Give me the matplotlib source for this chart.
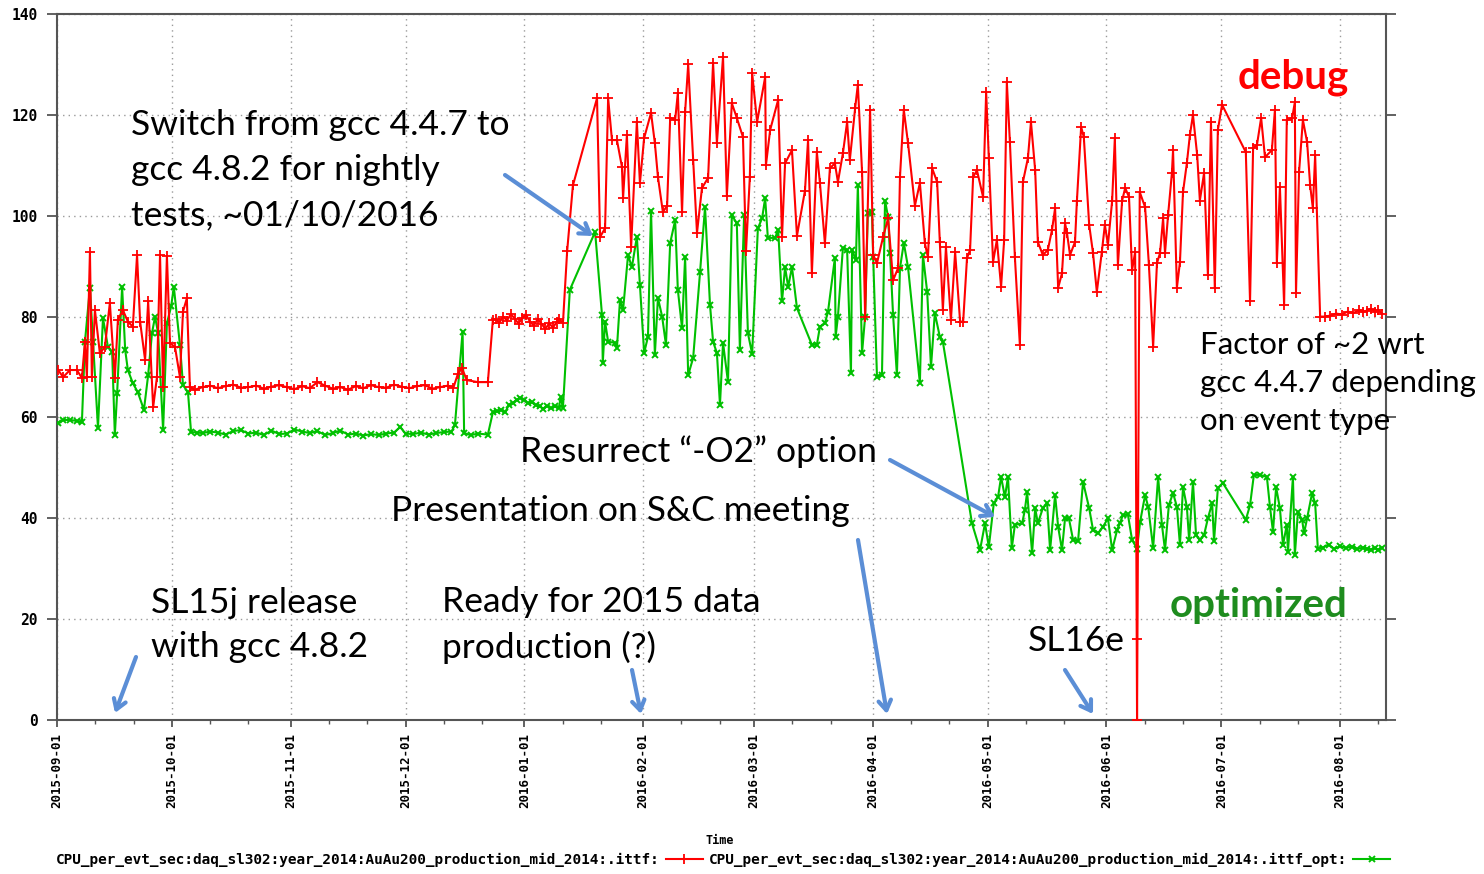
import matplotlib
matplotlib.use("Agg")
import matplotlib.pyplot as plt
import matplotlib.dates as mdates
import pandas as pd

# CPU per event (sec), nightly tests, days counted from 2015-09-01
start = pd.Timestamp("2015-09-01")

debug_days = [
    0.3, 1.6, 3.4, 5.2, 6.5, 7.3, 7.8, 8.6, 9.1, 9.9,
    11.2, 12.5, 13.8, 15.1, 15.9, 17.2, 18.5, 19.8, 20.9, 21.7,
    23.0, 23.8, 25.1, 26.1, 26.9, 27.7, 28.7, 29.5, 30.8, 32.1,
    32.9, 33.9, 34.7, 36, 38, 40, 42, 44, 46, 48,
    50, 52, 54, 56, 58, 60, 62, 64, 66, 68,
    70, 72, 74, 76, 78, 80, 82, 84, 86, 88,
    90, 92, 94, 96, 98, 100, 102, 103.5, 104.7, 105.7,
    107.0, 109.9, 112.5, 113.8, 114.5, 115.5, 116.5, 117.5, 118.5, 119.5,
    120.5, 121.5, 122.5, 123.5, 124.5, 125.5, 126.5, 127.5, 128.5, 129.5,
    130.5, 131.2, 132.1, 133.2, 134.7, 141.0, 141.8, 143.1, 143.9, 144.9,
    146.2, 147.5, 147.8, 148.8, 149.9, 151.4, 152.2, 153.3, 155.1, 156.1,
    156.9, 158.2, 159.3, 160.1, 161.4, 162.1, 163.2, 164.0, 164.8, 166.1,
    167.1, 168.4, 170.0, 171.3, 172.3, 173.9, 174.9, 176.2, 177.5, 179.1,
    179.9, 180.9, 181.5, 182.8, 184.9, 185.1, 186.2, 188.3, 189.3, 190.1,
    191.9, 193.2, 195.3, 196.1, 197.1, 198.4, 199.2, 200.5, 201.8, 203.1,
    203.9, 205.2, 206.3, 207.0, 208.4, 209.1, 210.2, 211.0, 212.3, 213.1,
    214.1, 215.7, 217.0, 218.3, 219.6, 220.1, 221.1, 222.2, 224.0, 225.3,
    226.6, 227.4, 228.5, 229.8, 230.5, 231.3, 232.1, 233.4, 234.5, 235.8,
    236.6, 237.6, 238.4, 239.2, 240.2, 241.8, 242.6, 243.3, 244.4, 245.4,
    246.5, 247.3, 248.0, 248.8, 250.1, 251.4, 252.2, 253.5, 254.3, 255.4,
    256.1, 257.4, 258.7, 259.8, 260.6, 261.4, 262.4, 263.2, 263.7, 264.5,
    265.8, 266.3, 267.4, 268.1, 269.5, 270.5, 271.5, 272.8, 273.6, 274.4,
    275.5, 276.2, 277.0, 278.1, 278.9, 279.9, 280.7, 281.5, 282.0, 282.1,
    282.7, 284.1, 285.1, 286.2, 287.2, 288.0, 288.8, 289.3, 290.1, 291.1,
    291.4, 292.4, 293.2, 294.0, 295.0, 295.8, 296.6, 297.7, 298.4, 299.5,
    300.5, 301.3, 302.3, 303.1, 304.2, 310.4, 311.5, 312.3, 313.3, 314.4,
    315.4, 317.2, 318.0, 318.5, 319.3, 320.4, 321.1, 322.5, 323.2, 323.5,
    324.3, 325.3, 326.4, 327.2, 327.9, 328.5, 329.8, 331.0, 332.5, 334.0,
    335.5, 337.0, 338.5, 340.0, 341.0, 342.0, 343.0, 344.0, 345.0, 346.0,
]
debug_cpu = [
    69.4, 68.0, 69.4, 69.4, 67.8, 75.0, 68.0, 92.8, 68.0, 81.3,
    72.7, 74.0, 82.7, 67.8, 79.3, 81.3, 79.0, 78.0, 92.2, 79.0,
    71.4, 83.0, 62.0, 68.0, 92.2, 66.0, 92.0, 74.7, 74.0, 68.0,
    81.0, 83.6, 66.0, 65.5, 66.0, 66.3, 65.8, 66.2, 66.5, 65.9,
    66.0, 66.3, 65.7, 66.1, 66.4, 66.0, 65.6, 66.2, 65.8, 67.0,
    66.3, 65.7, 66.0, 65.5, 66.2, 65.8, 66.4, 66.0, 65.9, 66.5,
    66.1, 65.8, 66.2, 66.4, 65.7, 66.0, 66.3, 65.9, 68.7, 69.8,
    67.4, 67.0, 67.0, 79.3, 79.5, 78.8, 80.0, 79.2, 80.5, 79.6,
    78.6, 79.8, 80.3, 79.0, 78.2, 79.5, 78.6, 77.5, 78.7, 77.8,
    79.0, 79.5, 78.7, 93.0, 106.0, 123.3, 95.8, 97.5, 123.3, 115.0,
    115.0, 109.7, 103.5, 116.0, 93.8, 118.6, 106.5, 115.4, 120.4, 114.4,
    107.7, 100.7, 102.0, 119.4, 119.0, 124.3, 100.7, 120.6, 130.0, 111.0,
    96.6, 105.5, 107.5, 130.3, 114.4, 131.5, 104.0, 122.3, 119.4, 115.6,
    93.0, 107.7, 128.3, 118.6, 127.5, 110.0, 117.0, 123.0, 95.8, 110.4,
    113.0, 96.0, 105.0, 115.0, 88.6, 112.6, 106.5, 94.5, 109.4, 110.4,
    106.7, 112.4, 118.6, 111.0, 121.4, 126.0, 108.7, 80.0, 121.0, 92.2,
    90.6, 95.8, 99.5, 87.2, 89.6, 107.7, 121.0, 114.4, 102.0, 106.5,
    94.5, 91.8, 109.4, 106.7, 94.8, 81.3, 93.8, 79.3, 92.8, 79.0,
    79.0, 91.6, 93.2, 107.7, 109.0, 103.7, 124.5, 111.4, 90.8, 95.2,
    85.9, 95.2, 126.5, 114.6, 91.8, 74.4, 106.7, 111.4, 118.6, 109.0,
    94.8, 92.2, 93.2, 97.2, 101.5, 85.7, 88.6, 98.5, 96.6, 92.2,
    94.8, 103.0, 117.6, 115.6, 98.2, 92.6, 84.9, 92.8, 98.2, 94.2,
    103.0, 115.4, 90.2, 103.0, 105.5, 103.7, 89.2, 92.8, 0.0, 16.0,
    104.7, 101.7, 90.2, 74.0, 90.6, 92.6, 99.5, 92.6, 100.1, 108.5,
    113.0, 85.7, 90.8, 104.7, 110.4, 116.0, 120.0, 112.0, 103.0, 108.5,
    88.2, 118.6, 85.7, 117.0, 122.0, 112.6, 83.0, 113.4, 114.0, 119.4,
    111.6, 113.0, 121.0, 90.6, 105.7, 82.3, 119.0, 119.4, 122.5, 84.7,
    108.7, 119.0, 114.6, 106.0, 101.5, 112.0, 80.0, 80.0, 80.2, 80.6,
    80.4, 81.0, 80.7, 81.3, 80.9, 81.2, 81.5, 81.0, 81.3, 80.6,
]

opt_days = [
    0.3, 1.6, 3.4, 5.2, 6.5, 7.3, 8.6, 9.4, 10.7, 12.0,
    13.3, 14.4, 15.1, 15.7, 17.0, 17.8, 18.5, 19.8, 21.1, 22.7,
    23.8, 24.8, 25.6, 26.4, 27.7, 28.7, 29.8, 30.5, 32.1, 32.9,
    34.2, 35.0, 36.5, 38, 40, 42, 44, 46, 48, 50,
    52, 54, 56, 58, 60, 62, 64, 66, 68, 70,
    72, 74, 76, 78, 80, 82, 84, 86, 88, 89.6,
    91, 93, 95, 97, 99, 101, 103.0, 103.9, 105.9, 106.3,
    108, 110, 112.5, 113.8, 115, 116, 117, 118, 119, 120,
    121, 122, 123, 124, 125, 126, 127, 128, 129, 130,
    131, 131.5, 132.1, 133.9, 140.5, 142.3, 142.5, 143.1, 143.9, 145.7,
    146.2, 147.0, 147.8, 149.1, 150.1, 151.4, 152.2, 153.3, 154.3, 155.1,
    156.1, 156.9, 158.0, 159.0, 160.1, 161.4, 162.1, 163.2, 164.0, 164.8,
    166.1, 167.9, 169.2, 170.5, 171.3, 172.3, 173.1, 173.9, 175.2, 176.2,
    177.5, 178.3, 179.4, 180.4, 181.5, 183.0, 184.1, 184.9, 185.6, 187.5,
    188.3, 189.3, 190.1, 190.9, 191.9, 193.2, 197.1, 198.4, 199.2, 200.5,
    201.3, 203.1, 203.3, 203.9, 205.2, 206.3, 207.3, 207.6, 208.6, 209.1,
    210.2, 211.0, 211.7, 212.8, 213.1, 214.1, 215.4, 216.2, 217.0, 217.5,
    218.3, 219.3, 220.1, 221.1, 222.2, 225.3, 226.1, 227.2, 228.2, 229.2,
    230.5, 231.3, 238.9, 241.0, 242.3, 243.3, 244.6, 245.7, 246.5, 247.5,
    248.3, 249.3, 250.1, 252.0, 252.7, 253.3, 254.6, 255.4, 256.1, 257.4,
    258.5, 259.3, 260.6, 261.4, 262.4, 263.2, 264.2, 265.3, 266.6, 267.9,
    269.5, 270.5, 271.8, 273.1, 274.4, 275.5, 276.8, 277.5, 278.3, 279.6,
    280.7, 282.0, 282.8, 284.1, 284.9, 286.2, 287.5, 288.5, 289.3, 290.3,
    291.4, 292.4, 293.2, 294.0, 295.0, 295.6, 296.6, 297.4, 298.4, 299.5,
    300.5, 301.6, 302.1, 303.1, 304.4, 310.4, 311.5, 312.5, 314.1, 315.9,
    316.7, 317.5, 318.3, 319.3, 320.1, 321.1, 321.4, 322.7, 323.2, 324.0,
    325.1, 325.6, 326.4, 327.7, 328.5, 329.2, 330.5, 332.0, 333.5, 335.0,
    336.5, 338.0, 339.5, 341.0, 342.0, 343.0, 344.0, 345.0, 346.0,
]
opt_cpu = [
    58.9, 59.5, 59.5, 59.3, 59.0, 75.0, 85.7, 75.0, 57.9, 79.7,
    74.0, 73.0, 56.5, 64.8, 85.9, 73.4, 69.4, 66.8, 65.0, 61.5,
    68.4, 76.7, 80.0, 76.7, 57.5, 78.7, 82.0, 85.9, 74.4, 66.4,
    65.0, 57.1, 57.0, 56.9, 57.2, 57.0, 56.6, 57.3, 57.5, 56.8,
    57.0, 56.5, 57.4, 56.7, 56.8, 57.6, 57.2, 56.9, 57.3, 56.5,
    56.9, 57.4, 56.6, 56.8, 56.4, 56.7, 56.5, 56.8, 57.0, 58.1,
    56.8, 56.7, 57.0, 56.6, 56.9, 57.1, 57.2, 58.5, 77.0, 56.9,
    56.5, 56.8, 56.6, 61.0, 61.2, 61.5, 61.0, 62.5, 62.8, 63.5,
    63.9, 63.5, 62.8, 63.0, 62.4, 62.2, 61.7, 62.3, 61.8, 62.2,
    61.8, 64.0, 61.9, 85.3, 96.8, 80.3, 70.8, 79.0, 75.0, 74.8,
    73.8, 83.3, 81.3, 92.2, 89.8, 95.8, 86.3, 72.8, 76.0, 101.0,
    72.4, 83.7, 80.0, 74.4, 94.6, 99.1, 85.3, 77.7, 91.8, 68.4,
    71.8, 88.8, 101.7, 82.3, 75.0, 72.8, 62.5, 74.8, 67.0, 100.1,
    98.5, 73.4, 100.1, 76.7, 72.6, 97.5, 99.5, 103.5, 95.6, 95.6,
    97.2, 83.0, 89.8, 85.9, 89.8, 81.7, 74.4, 74.4, 78.0, 78.7,
    80.9, 91.6, 76.0, 80.0, 93.6, 93.2, 68.8, 93.2, 91.2, 106.0,
    72.8, 80.0, 100.5, 100.7, 91.8, 68.0, 68.4, 103.0, 99.7, 92.6,
    80.3, 68.4, 89.6, 94.6, 89.8, 66.8, 92.2, 84.9, 70.0, 80.7,
    76.0, 75.0, 39.0, 33.7, 39.0, 34.3, 43.0, 44.2, 48.2, 44.2,
    48.2, 34.1, 38.7, 39.0, 41.6, 45.2, 33.1, 42.0, 39.0, 42.0,
    43.0, 33.7, 44.6, 38.3, 33.7, 40.0, 40.0, 35.7, 35.5, 47.2,
    42.0, 37.7, 37.0, 38.3, 40.0, 33.7, 37.7, 39.0, 40.6, 40.8,
    35.7, 34.0, 39.3, 44.6, 42.3, 34.1, 48.2, 38.7, 33.7, 42.6,
    45.0, 42.3, 34.7, 46.2, 42.3, 35.7, 47.2, 36.7, 35.7, 36.7,
    40.0, 43.0, 35.5, 46.0, 47.0, 39.7, 42.6, 48.6, 48.6, 48.2,
    42.3, 37.3, 46.2, 42.0, 34.7, 38.7, 33.3, 48.2, 32.7, 41.2,
    39.7, 37.0, 40.0, 45.0, 43.0, 34.0, 34.2, 34.8, 33.9, 34.5,
    34.1, 34.4, 33.9, 34.2, 34.0, 33.8, 34.1, 33.8, 34.2,
]

series_names = [
    "CPU_per_evt_sec:daq_sl302:year_2014:AuAu200_production_mid_2014:.ittf:",
    "CPU_per_evt_sec:daq_sl302:year_2014:AuAu200_production_mid_2014:.ittf_opt:",
]

debug_dates = start + pd.to_timedelta(debug_days, unit="D")
opt_dates = start + pd.to_timedelta(opt_days, unit="D")

W, H = 1484, 874
fig = plt.figure(figsize=(W / 100, H / 100), dpi=100)
ax = fig.add_axes([57 / W, 1 - 720 / H, (1386 - 57) / W, (720 - 14) / H])


def fp(px, py):
    # pixel position (from top-left) -> figure fraction
    return (px / W, 1 - py / H)


red_line, = ax.plot(debug_dates, debug_cpu, color="#ff0000", lw=1.5,
                    marker="+", ms=7, mew=1.3, zorder=4)
green_line, = ax.plot(opt_dates, opt_cpu, color="#00c000", lw=1.5,
                      marker="x", ms=4.5, mew=1.4, zorder=3)

ax.set_xlim(start, start + pd.Timedelta(days=347))
ax.set_ylim(0, 140)
ax.set_yticks(range(0, 141, 20))

ax.xaxis.set_major_locator(mdates.MonthLocator())
ax.xaxis.set_major_formatter(mdates.DateFormatter("%Y-%m-%d"))
ax.xaxis.set_minor_locator(mdates.DayLocator(bymonthday=[11, 21]))

mono = {"family": "DejaVu Sans Mono", "weight": "bold"}
for lab in ax.get_xticklabels():
    lab.set_rotation(90)
    lab.set_fontsize(9)
    lab.set_fontfamily(mono["family"])
    lab.set_fontweight("bold")
for lab in ax.get_yticklabels():
    lab.set_fontsize(10.5)
    lab.set_fontfamily(mono["family"])
    lab.set_fontweight("bold")

ax.tick_params(axis="y", which="both", direction="out", length=7, width=1.3,
               right=True, color="#555555", pad=7)
ax.tick_params(axis="x", which="major", direction="out", length=5, width=1.3,
               color="#555555", pad=4)
ax.tick_params(axis="x", which="minor", direction="out", length=3, width=1.0,
               color="#555555")

ax.grid(True, which="major", linestyle=(0, (1, 3)), color="#9a9a9a", lw=1.0)
for sp in ax.spines.values():
    sp.set_color("#555555")
    sp.set_linewidth(1.5)

fig.text(*fp(720, 841), "Time", ha="center", va="center", fontsize=8.5, **mono)

ax.legend([red_line, green_line], series_names, loc="center left",
          bbox_to_anchor=fp(56, 860), bbox_transform=fig.transFigure,
          ncol=2, frameon=False, markerfirst=False, handlelength=2.6,
          handletextpad=0.4, columnspacing=0.4, borderpad=0, borderaxespad=0,
          prop={"family": "DejaVu Sans Mono", "weight": "bold", "size": 10.4})

# slide annotations
note = {"family": "Lato", "size": 25.5, "color": "black"}
fig.text(*fp(131, 170), "Switch from gcc 4.4.7 to\ngcc 4.8.2 for nightly\ntests, ~01/10/2016",
         ha="left", va="center", linespacing=1.5, **note)
fig.text(*fp(1200, 383), "Factor of ~2 wrt\ngcc 4.4.7 depending\non event type",
         ha="left", va="center", linespacing=1.45, family="Lato", size=22.5,
         color="black")
fig.text(*fp(520, 452), "Resurrect \u201c-O2\u201d option", ha="left", va="center", **note)
fig.text(*fp(391, 511), "Presentation on S&C meeting", ha="left", va="center", **note)
fig.text(*fp(151, 625), "SL15j release\nwith gcc 4.8.2", ha="left", va="center",
         linespacing=1.45, **note)
fig.text(*fp(442, 625), "Ready for 2015 data\nproduction (?)", ha="left", va="center",
         linespacing=1.45, **note)
fig.text(*fp(1028, 641), "SL16e", ha="left", va="center", **note)

fig.text(*fp(1238, 77), "debug", ha="left", va="center", family="Lato",
         weight="bold", size=29, color="#ff0000")
fig.text(*fp(1170, 605), "optimized", ha="left", va="center", family="Lato",
         weight="bold", size=29, color="#1e8c1e")

arrow_kw = dict(arrowstyle="->,head_length=0.7,head_width=0.45",
                color="#5b8ed6", lw=3, shrinkA=0, shrinkB=0)
arrows = [
    ((505, 175), (593, 236)),
    ((890, 460), (995, 517)),
    ((858, 540), (887, 714)),
    ((136, 657), (115, 713)),
    ((632, 670), (641, 714)),
    ((1065, 670), (1093, 714)),
]
for tail, head in arrows:
    ax.annotate("", xy=fp(*head), xycoords="figure fraction",
                xytext=fp(*tail), textcoords="figure fraction",
                arrowprops=arrow_kw, zorder=6)

fig.savefig("out.png", dpi=100)
